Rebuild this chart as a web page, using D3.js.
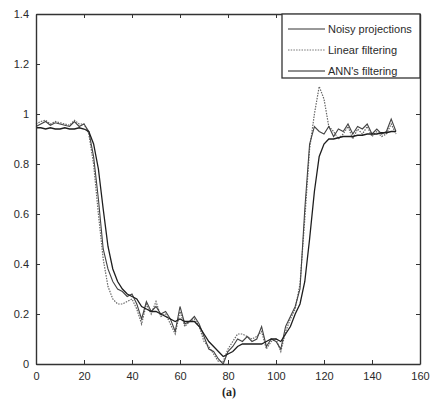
<!DOCTYPE html>
<html>
<head>
<meta charset="utf-8">
<script src="https://cdn.jsdelivr.net/npm/d3@7"></script>
<style>
  body { margin: 0; background: #fff; }
  svg { display: block; font-family: "Liberation Sans", Arial, sans-serif; }
</style>
</head>
<body>
<svg></svg>
<script>
let xValues = d3.range(0, 151, 2)

let noisy = [0.95,0.96,0.97,0.955,0.965,0.96,0.955,0.95,0.97,0.95,0.96,0.93,0.83,0.66,0.46,0.38,0.33,0.30,0.29,0.27,
  0.28,0.24,0.18,0.25,0.21,0.23,0.20,0.21,0.18,0.13,0.23,0.16,0.17,0.19,0.16,0.11,0.06,0.05,0.02,0.00,
  0.05,0.07,0.10,0.09,0.11,0.09,0.10,0.15,0.07,0.10,0.09,0.06,0.15,0.19,0.23,0.30,0.62,0.88,0.95,0.93,
  0.92,0.95,0.91,0.94,0.93,0.96,0.92,0.95,0.94,0.96,0.92,0.94,0.92,0.93,0.98,0.93]

let linear = [0.96,0.97,0.975,0.96,0.97,0.965,0.96,0.955,0.975,0.96,0.96,0.92,0.80,0.60,0.42,0.31,0.26,0.24,0.24,0.25,
  0.26,0.22,0.16,0.24,0.20,0.25,0.19,0.20,0.16,0.12,0.21,0.15,0.17,0.18,0.15,0.09,0.07,0.04,0.01,0.01,
  0.06,0.09,0.12,0.12,0.11,0.10,0.11,0.13,0.06,0.09,0.10,0.05,0.13,0.18,0.22,0.32,0.58,0.86,1.00,1.11,
  1.06,0.95,0.93,0.90,0.92,0.95,0.90,0.94,0.92,0.95,0.91,0.93,0.91,0.92,0.96,0.92]

let ann = [0.945,0.945,0.94,0.945,0.94,0.94,0.945,0.94,0.94,0.945,0.94,0.93,0.88,0.78,0.62,0.47,0.38,0.33,0.30,0.28,
  0.27,0.26,0.23,0.22,0.21,0.21,0.20,0.19,0.18,0.17,0.18,0.17,0.17,0.17,0.15,0.12,0.09,0.07,0.05,0.03,
  0.04,0.05,0.07,0.08,0.08,0.08,0.08,0.08,0.09,0.10,0.10,0.09,0.12,0.15,0.20,0.24,0.33,0.50,0.69,0.83,
  0.88,0.90,0.90,0.905,0.91,0.91,0.91,0.915,0.915,0.92,0.92,0.92,0.925,0.925,0.93,0.93]

let seriesNames = ['Noisy projections', 'Linear filtering', "ANN's filtering"]
let xTicks = [0, 20, 40, 60, 80, 100, 120, 140, 160]
let yTicks = [0, 0.2, 0.4, 0.6, 0.8, 1, 1.2, 1.4]

let width = 432
let height = 400
let padLeft = 36
let padRight = 420
let padTop = 14
let padBottom = 364

let svg = d3.select('svg')

let xScale
let yScale

let drawCanvas = () => {
    svg.attr('width', width)
    svg.attr('height', height)
}

let generateScales = () => {
    xScale = d3.scaleLinear().domain([0, 160]).range([padLeft, padRight])
    yScale = d3.scaleLinear().domain([0, 1.4]).range([padBottom, padTop])
}

let generateAxes = () => {
    // box with inward ticks on every side, matlab style
    let xAxis = d3.axisBottom(xScale).tickValues(xTicks).tickSizeInner(-4).tickSizeOuter(0).tickPadding(8)
    svg.append('g')
        .attr('transform', 'translate(0,' + padBottom + ')')
        .call(xAxis)

    let yAxis = d3.axisLeft(yScale).tickValues(yTicks).tickSizeInner(-4).tickSizeOuter(0).tickPadding(7)
        .tickFormat(d3.format('~g'))
    svg.append('g')
        .attr('transform', 'translate(' + padLeft + ',0)')
        .call(yAxis)

    svg.append('g')
        .attr('transform', 'translate(0,' + padTop + ')')
        .call(d3.axisTop(xScale).tickValues(xTicks).tickSizeInner(-4).tickSizeOuter(0).tickFormat(''))
    svg.append('g')
        .attr('transform', 'translate(' + padRight + ',0)')
        .call(d3.axisRight(yScale).tickValues(yTicks).tickSizeInner(-4).tickSizeOuter(0).tickFormat(''))

    svg.selectAll('.domain').attr('stroke', '#333').attr('stroke-width', 1.4)
    svg.selectAll('.tick line').attr('stroke', '#333')
    svg.selectAll('.tick text').attr('fill', '#2a2a2a').style('font-size', '11px')

    svg.append('text')
        .attr('x', 229)
        .attr('y', 396)
        .attr('text-anchor', 'middle')
        .attr('fill', '#222')
        .style('font-family', '"Liberation Serif", serif')
        .style('font-size', '12px')
        .style('font-weight', 'bold')
        .text('(a)')
}

let drawLines = () => {
    let line = d3.line()
        .x((d, i) => xScale(xValues[i]))
        .y((d) => yScale(d))

    svg.append('path')
        .datum(linear)
        .attr('fill', 'none')
        .attr('stroke', '#666')
        .attr('stroke-width', 1.2)
        .attr('stroke-dasharray', '1.5,1.2')
        .attr('d', line)

    svg.append('path')
        .datum(noisy)
        .attr('fill', 'none')
        .attr('stroke', '#444')
        .attr('stroke-width', 1.1)
        .attr('d', line)

    svg.append('path')
        .datum(ann)
        .attr('fill', 'none')
        .attr('stroke', '#1e1e1e')
        .attr('stroke-width', 1.3)
        .attr('d', line)
}

let drawLegend = () => {
    let lg = svg.append('g')
    lg.append('rect')
        .attr('x', 282)
        .attr('y', padTop)
        .attr('width', padRight - 282)
        .attr('height', 64)
        .attr('fill', '#fff')
        .attr('stroke', '#333')
        .attr('stroke-width', 1.3)

    let styles = [
        {stroke: '#333', dash: null},
        {stroke: '#777', dash: '1.5,1.2'},
        {stroke: '#1e1e1e', dash: null}
    ]

    seriesNames.forEach((name, i) => {
        let y = 29 + i * 21
        lg.append('line')
            .attr('x1', 288).attr('x2', 325)
            .attr('y1', y).attr('y2', y)
            .attr('stroke', styles[i].stroke)
            .attr('stroke-dasharray', styles[i].dash)
        lg.append('text')
            .attr('x', 328)
            .attr('y', y + 4)
            .attr('fill', '#2a2a2a')
            .style('font-size', '11px')
            .text(name)
    })
}

drawCanvas()
generateScales()
drawLines()
generateAxes()
drawLegend()
</script>
</body>
</html>
